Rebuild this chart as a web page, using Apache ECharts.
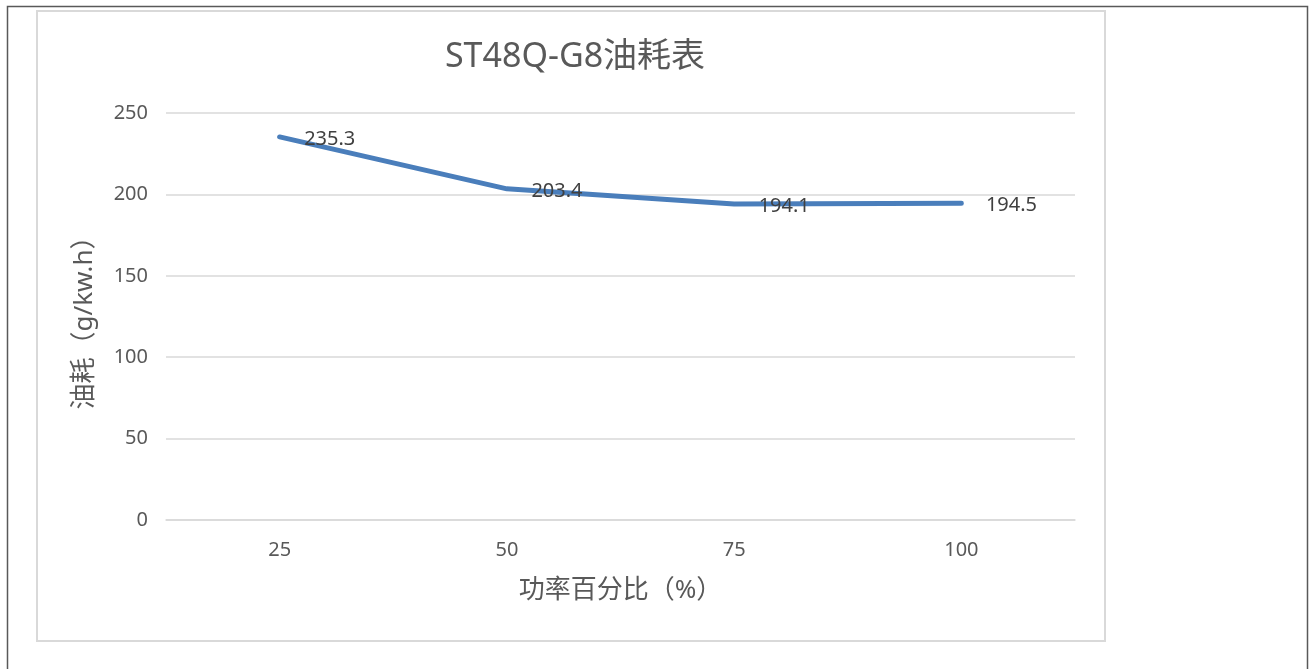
<!DOCTYPE html>
<html>
<head>
<meta charset="utf-8">
<title>ST48Q-G8油耗表</title>
<script src="https://cdn.jsdelivr.net/npm/echarts@6/dist/echarts.min.js"></script>
<style>
  html, body { margin: 0; padding: 0; background: #fff; }
  .diagram { width: 1309px; height: 669px; }
</style>
</head>
<body>
<div class="diagram"></div>
<script>
var categories = ['25', '50', '75', '100'];
var fuelValues = [235.3, 203.4, 194.1, 194.5];
var yTicks     = [0, 50, 100, 150, 200, 250];

var FONT = '"Noto Sans", "Noto Sans CJK SC", sans-serif';

var chart = echarts.init(document.querySelector('.diagram'));

var option = {
  backgroundColor: '#fff',
  animation: false,
  title: {
    text: 'ST48Q-G8油耗表',
    left: 570,
    top: 35,
    textAlign: 'center',
    textStyle: {
      fontFamily: FONT,
      fontSize: 34,
      fontWeight: 'normal',
      color: '#595959'
    }
  },
  graphic: [
    {
      type: 'rect',
      shape: {x: 7.5, y: 6.5, width: 1300, height: 700},
      style: {fill: 'none', stroke: '#595959', lineWidth: 1.5},
      silent: true
    },
    {
      type: 'rect',
      shape: {x: 37, y: 11, width: 1068, height: 630},
      style: {fill: 'none', stroke: '#d9d9d9', lineWidth: 2},
      silent: true
    }
  ],
  grid: {
    left: 166,
    right: 234,
    top: 113,
    bottom: 149
  },
  xAxis: {
    type: 'category',
    data: categories,
    boundaryGap: true,
    name: '功率百分比（%）',
    nameLocation: 'middle',
    nameGap: 58,
    nameTextStyle: {fontFamily: FONT, fontSize: 26, color: '#595959'},
    axisLine: {lineStyle: {color: '#d9d9d9', width: 1.5}},
    axisTick: {show: false},
    axisLabel: {fontFamily: FONT, fontSize: 20, color: '#595959', margin: 20}
  },
  yAxis: {
    type: 'value',
    min: yTicks[0],
    max: yTicks[yTicks.length - 1],
    interval: 50,
    name: '油耗（g/kw.h）',
    nameLocation: 'middle',
    nameGap: 68,
    nameRotate: 90,
    nameTextStyle: {fontFamily: FONT, fontSize: 26, color: '#595959'},
    axisLine: {show: false},
    axisTick: {show: false},
    axisLabel: {fontFamily: FONT, fontSize: 20, color: '#595959', margin: 18},
    splitLine: {lineStyle: {color: '#d9d9d9', width: 1.5}}
  },
  series: [
    {
      name: '油耗',
      type: 'line',
      data: fuelValues,
      symbol: 'circle',
      symbolSize: 1,
      itemStyle: {color: '#4a7ebb'},
      lineStyle: {color: '#4a7ebb', width: 5, cap: 'round', join: 'round'},
      label: {
        show: true,
        position: 'right',
        distance: 24,
        offset: [0, 2],
        fontFamily: FONT,
        fontSize: 20,
        color: '#404040'
      }
    }
  ]
};

chart.setOption(option, true);
</script>
</body>
</html>
